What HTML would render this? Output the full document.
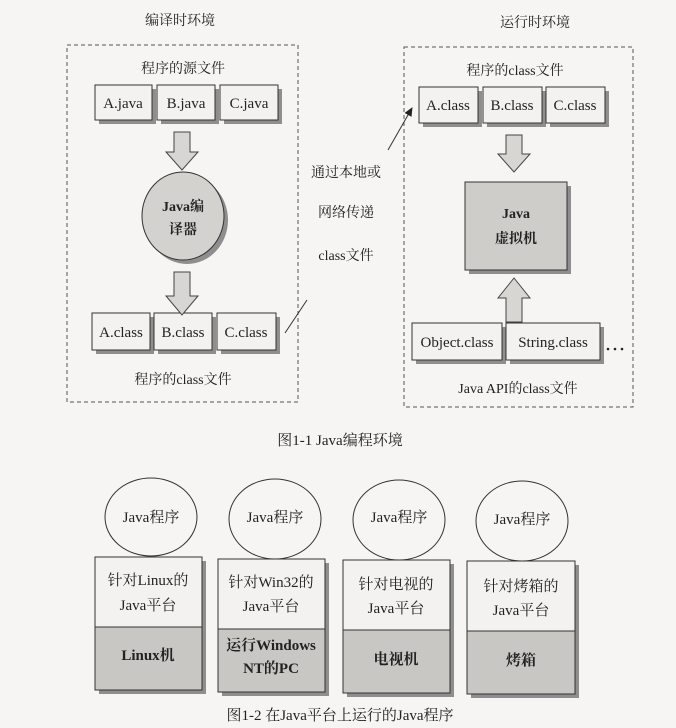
<!DOCTYPE html>
<html><head><meta charset="utf-8"><style>
html,body{margin:0;padding:0;background:#f6f5f3;}
svg{display:block;}
text{font-family:"Liberation Serif","Noto Serif CJK SC",serif;fill:#222;}
</style></head><body>
<svg width="676" height="728" viewBox="0 0 676 728" xmlns="http://www.w3.org/2000/svg">
<defs>
<marker id="ah" markerWidth="10" markerHeight="10" refX="8" refY="5" orient="auto"><path d="M0,1 L9,5 L0,9 Z" fill="#222"/></marker>
</defs>
<rect width="676" height="728" fill="#f6f5f3"/>
<g font-size="14" text-anchor="middle">
<text x="180" y="25">编译时环境</text>
<text x="535" y="27">运行时环境</text>
</g>
<rect x="67" y="45" width="231" height="357" fill="none" stroke="#555" stroke-dasharray="4,3"/>
<rect x="404" y="47" width="229" height="360" fill="none" stroke="#555" stroke-dasharray="4,3"/>

<g font-size="14" text-anchor="middle">
<text x="183" y="73">程序的源文件</text>
<text x="183" y="384">程序的class文件</text>
<text x="515" y="75">程序的class文件</text>
<text x="518" y="393">Java API的class文件</text>
</g>

<g fill="#8e8e8e">
<rect x="99" y="89" width="57" height="35"/><rect x="161" y="89" width="58" height="35"/><rect x="224" y="89" width="58" height="35"/>
<rect x="96" y="317" width="58" height="37"/><rect x="158" y="317" width="58" height="37"/><rect x="221" y="317" width="59" height="37"/>
<rect x="423" y="91" width="59" height="36"/><rect x="487" y="91" width="59" height="36"/><rect x="550" y="91" width="59" height="36"/>
<rect x="416" y="327" width="90" height="37"/><rect x="510" y="327" width="94" height="37"/>
<rect x="469" y="186" width="102" height="88"/>
</g>
<g fill="#f3f2f0" stroke="#333" stroke-width="1">
<rect x="95" y="85" width="57" height="35"/><rect x="157" y="85" width="58" height="35"/><rect x="220" y="85" width="58" height="35"/>
<rect x="92" y="313" width="58" height="37"/><rect x="154" y="313" width="58" height="37"/><rect x="217" y="313" width="59" height="37"/>
<rect x="419" y="87" width="59" height="36"/><rect x="483" y="87" width="59" height="36"/><rect x="546" y="87" width="59" height="36"/>
<rect x="412" y="323" width="90" height="37"/><rect x="506" y="323" width="94" height="37"/>
</g>
<rect x="465" y="182" width="102" height="88" fill="#cfcdca" stroke="#333"/>
<g font-size="15" text-anchor="middle">
<text x="123" y="108">A.java</text><text x="186" y="108">B.java</text><text x="249" y="108">C.java</text>
<text x="121" y="337">A.class</text><text x="183" y="337">B.class</text><text x="246" y="337">C.class</text>
<text x="448" y="110">A.class</text><text x="512" y="110">B.class</text><text x="575" y="110">C.class</text>
<text x="457" y="347">Object.class</text><text x="553" y="347">String.class</text>
<text x="516" y="218" font-weight="bold" font-size="14">Java</text><text x="516" y="243" font-weight="bold" font-size="14">虚拟机</text>
</g>
<g fill="#222"><circle cx="608" cy="349" r="1.3"/><circle cx="615" cy="349" r="1.3"/><circle cx="622" cy="349" r="1.3"/></g>

<g fill="#d8d6d3" stroke="#444" stroke-width="1">
<path d="M174,132 H190 V152 H198 L182,170 L166,152 H174 Z"/>
<path d="M174,272 H190 V296 H198 L182,315 L166,296 H174 Z"/>
<path d="M506,135 H522 V154 H530 L514,172 L498,154 H506 Z"/>
<path d="M506,322 H522 V298 H530 L514,278 L498,298 H506 Z"/>
</g>

<ellipse cx="187" cy="220" rx="41" ry="44" fill="#8e8e8e"/>
<ellipse cx="183" cy="216" rx="41" ry="44" fill="#d4d2cf" stroke="#333"/>
<text x="183" y="211" font-size="14" font-weight="bold" text-anchor="middle">Java编</text>
<text x="183" y="234" font-size="14" font-weight="bold" text-anchor="middle">译器</text>

<g font-size="14" text-anchor="middle">
<text x="346" y="177">通过本地或</text>
<text x="346" y="217">网络传递</text>
<text x="346" y="260">class文件</text>
</g>
<line x1="285" y1="333" x2="307" y2="300" stroke="#333"/>
<line x1="388" y1="150" x2="412" y2="108" stroke="#333" marker-end="url(#ah)"/>

<text x="340" y="445" font-size="15" text-anchor="middle">图1-1  Java编程环境</text>

<g stroke="#333" fill="#f6f5f3">
<ellipse cx="151" cy="517" rx="46" ry="39"/>
<ellipse cx="275" cy="519" rx="46" ry="40"/>
<ellipse cx="399" cy="520" rx="46" ry="40"/>
<ellipse cx="522" cy="521" rx="46" ry="40"/>
</g>
<g fill="#8e8e8e">
<rect x="99" y="561" width="107" height="133"/><rect x="222" y="563" width="107" height="133"/><rect x="347" y="564" width="107" height="133"/><rect x="471" y="565" width="108" height="133"/>
</g>
<g stroke="#333">
<rect x="95" y="557" width="107" height="70" fill="#f3f2f0"/><rect x="95" y="627" width="107" height="63" fill="#c9c7c4"/>
<rect x="218" y="559" width="107" height="70" fill="#f3f2f0"/><rect x="218" y="629" width="107" height="63" fill="#c9c7c4"/>
<rect x="343" y="560" width="107" height="70" fill="#f3f2f0"/><rect x="343" y="630" width="107" height="63" fill="#c9c7c4"/>
<rect x="467" y="561" width="108" height="70" fill="#f3f2f0"/><rect x="467" y="631" width="108" height="63" fill="#c9c7c4"/>
</g>
<g font-size="15" text-anchor="middle">
<text x="151" y="522">Java程序</text><text x="275" y="522">Java程序</text><text x="399" y="522">Java程序</text><text x="522" y="524">Java程序</text>
<text x="148" y="585">针对Linux的</text><text x="148" y="610">Java平台</text>
<text x="271" y="587">针对Win32的</text><text x="271" y="611">Java平台</text>
<text x="396" y="589">针对电视的</text><text x="396" y="613">Java平台</text>
<text x="521" y="591">针对烤箱的</text><text x="521" y="615">Java平台</text>
<text x="148" y="660" font-weight="bold">Linux机</text>
<text x="271" y="650" font-weight="bold">运行Windows</text><text x="271" y="673" font-weight="bold">NT的PC</text>
<text x="396" y="664" font-weight="bold">电视机</text>
<text x="521" y="665" font-weight="bold">烤箱</text>
</g>
<text x="340" y="720" font-size="15" text-anchor="middle">图1-2  在Java平台上运行的Java程序</text>
</svg>
</body></html>
